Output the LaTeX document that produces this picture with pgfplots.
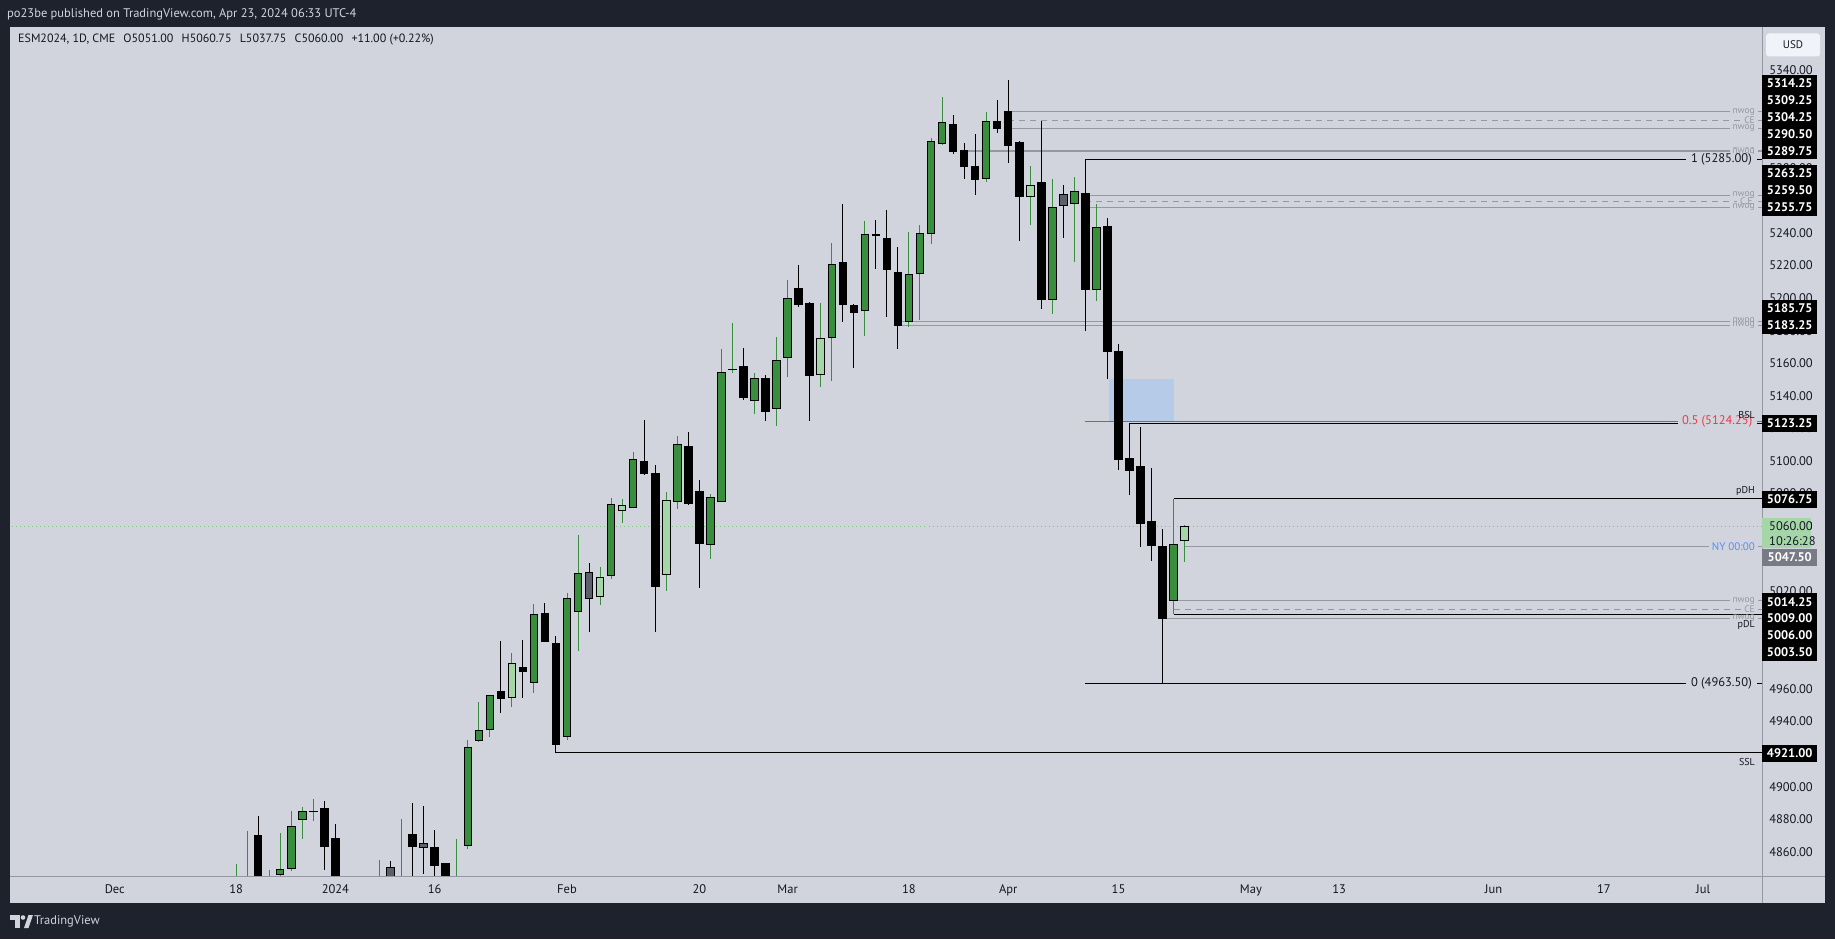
\documentclass[border=0pt]{standalone}
\usepackage{fontspec}
\setmainfont{PT Sans}
\usepackage{pgfplots}
\pgfplotsset{compat=1.18}
\usepackage{pgfplotstable}

\definecolor{frame}{RGB}{30,34,45}
\definecolor{pane}{RGB}{209,212,220}
\definecolor{upcol}{RGB}{56,142,60}
\definecolor{upin}{RGB}{165,214,167}
\definecolor{dnin}{RGB}{93,96,107}
\definecolor{lvl}{RGB}{149,152,161}
\definecolor{fibred}{RGB}{242,54,69}
\definecolor{fvg}{RGB}{181,203,232}
\definecolor{nyblue}{RGB}{91,140,246}
\definecolor{ink}{RGB}{19,23,34}
\definecolor{pxgrey}{RGB}{120,123,134}
\definecolor{dotgreen}{RGB}{129,199,132}
\definecolor{usdbox}{RGB}{240,243,250}

\newcommand\fsz[1]{\fontsize{#1}{#1}\selectfont}
\pgfdeclareplotmark{blank}{}

% i = trading day index (0 = 1 Dec 2023), o h l c
\pgfplotstableread{
i o h l c
11 4820 4852.6 4810 4840
12 4835 4872.8 4830 4870.8
15 4846.2 4871.6 4844 4849.3
16 4849.9 4885.1 4848 4875.7
17 4880.0 4887.6 4868.1 4884.9
18 4884.6 4892.5 4879.2 4885.0
24 4790 4854.8 4785 4849.9
26 4835 4880.2 4830 4871.4
31 4830 4867.7 4825 4864.6
32 4864.0 4928.5 4862 4924.2
33 4928.5 4951.8 4927.7 4934.6
34 4935.2 4956.1 4930.7 4956.1
38 4964.1 5012.2 4957.7 5005.8
41 4930.9 5018.9 4928.7 5015.6
42 5007.7 5054.5 4983.5 5031.0
45 5029.8 5077.4 5027.7 5073.4
47 5071.5 5105.3 5071.0 5101.0
51 5075.0 5115.1 5070.7 5110.2
54 5049.0 5079.5 5040 5077.7
55 5075.2 5168.5 5075 5154.4
56 5156.0 5184.7 5154.2 5156.4
58 5137.2 5153.8 5129.0 5150.7
60 5132.3 5176.1 5121.7 5161.8
61 5163.6 5211.1 5151.3 5199.8
65 5175.9 5233.8 5149.3 5220.7
68 5192.1 5247.3 5176.9 5239.1
72 5185.75 5240.6 5182.4 5214.6
73 5215.2 5244.8 5186.5 5239.7
74 5239.5 5298.3 5233.4 5296.2
75 5295.0 5323.4 5294.2 5307.9
79 5273.5 5314.2 5271.5 5308.5
85 5199 5273.1 5190 5255.75
87 5258.1 5274.3 5222 5265.5
89 5205 5257.7 5198 5243.4
96 5014.25 5076.75 5006 5049
}\upbars

\pgfplotstableread{
i o h l c
13 4869.8 4882.0 4795 4800
19 4886.9 4891.2 4849.1 4863.2
20 4868.3 4877.1 4820 4830
27 4870.8 4890.0 4835 4863.2
29 4862.8 4873.4 4835 4851.5
30 4852.6 4852.6 4820 4830
35 4958.6 4989.5 4945.5 4954.1
37 4972.9 4990.1 4954.7 4970.8
39 5006.4 5012.8 4989.0 4989.0
40 4988.0 4992.5 4921.0 4926.0
48 5099.8 5125.1 5091.6 5092.4
49 5092.4 5097.3 4995 5023
52 5108.6 5117.8 5072.8 5073.6
53 5081.4 5088.3 5022 5049.4
57 5157.7 5169.3 5137.4 5138.9
59 5150.7 5152.8 5124.7 5130.3
62 5206.0 5220.3 5194.7 5195.9
63 5196.4 5197.6 5124.7 5152.6
66 5221.9 5257.7 5185.5 5195.9
67 5195.5 5196.4 5157.3 5191.2
69 5239.1 5247.9 5218.0 5238.5
70 5236.7 5254.1 5188.6 5217.6
71 5215.8 5231.3 5168.5 5183.25
76 5306.6 5312.4 5288.4 5289.75
77 5290.5 5295.2 5273.3 5280.7
78 5280.9 5300.7 5263.3 5272.7
80 5308.5 5321.6 5301.5 5304.25
81 5314.25 5333.9 5282.9 5293.6
82 5295.2 5296.4 5235.2 5262.3
84 5271.0 5308.7 5193 5199
88 5264.3 5285.0 5180 5205
90 5244.2 5249.1 5150 5167
91 5167 5172 5094.7 5100.8
92 5101.2 5123.25 5079.1 5094.0
93 5096.3 5120.8 5047.4 5061.3
94 5063.1 5095.7 5038.6 5048.0
95 5047.2 5058.2 4963.5 5003.5
}\downbars

% inside bars
\pgfplotstableread{
i o h l c
14 4830 4848.7 4825 4848.7
36 4954.9 4982.1 4949.1 4975.7
44 5016.9 5034.9 5011.8 5028.5
46 5069.7 5076.4 5062.1 5072.8
50 5030 5080.9 5020 5075.8
64 5153.2 5197.0 5145.6 5175.3
83 5262.4 5281.1 5245.0 5269.2
97 5051 5060.75 5037.75 5060
}\upinside

\pgfplotstableread{
i o h l c
25 4850.5 4854.4 4830 4843
28 4865.2 4888.2 4846.2 4862.8
43 5031.6 5037.3 4995.2 5015.6
86 5263.6 5269.4 5237.0 5256.9
}\downinside

\pgfplotsset{
  candle/.style 2 args={
    only marks, mark=blank, scatter,
    visualization depends on={\thisrow{c}-\thisrow{o} \as \bodyh},
    scatter/@pre marker code/.code={%
      \filldraw[fill=#1, draw=black, line width=1pt]
        (axis direction cs:-0.34,0) rectangle (axis direction cs:0.34,\bodyh);
    },
    scatter/@post marker code/.code={},
    error bars/.cd, y dir=both, y explicit, error mark=none,
      error bar style={line width=1pt, draw=#2},
  },
}

\tikzset{
  lv/.style={lvl, line width=1pt},
  lvd/.style={lvl, line width=1pt, dash pattern=on 6pt off 5pt},
  tag/.style={fill=pane, inner xsep=3pt, inner ysep=0pt, anchor=east, font=\fsz{9.5}, text=lvl},
  bigtag/.style={fill=pane, inner xsep=5pt, inner ysep=0pt, anchor=east, font=\fsz{12.5}, text=ink},
  side/.style={anchor=base east, inner sep=0pt, font=\fsz{10}, text=ink},
  pbox/.style={fill=black, text=white, font=\fsz{12.5}\bfseries, anchor=west,
    minimum width=55pt, minimum height=16.9pt, inner sep=0pt},
}

\begin{document}
\begin{tikzpicture}
\useasboundingbox (0,0) rectangle (1835pt,939pt);
\begin{scope}[x=1pt, y=-1pt, shift={(0pt,939pt)}]
  \fill[frame] (0,0) rectangle (1835,939);
  \fill[pane] (10,27) rectangle (1825,903);
\end{scope}

\begin{axis}[
  at={(10pt,62pt)}, anchor=south west, scale only axis,
  width=1752pt, height=850pt,
  xmin=-9.5, xmax=149.34, ymin=4844.6, ymax=5366.4,
  axis line style={draw=none},
  major tick length=0pt,
  clip marker paths=true,
  scaled y ticks=false,
  xtick={0,11,20,29,41,53,61,72,81,91,103,111,125,135,144},
  xticklabels={Dec,18,2024,16,Feb,20,Mar,18,Apr,15,May,13,Jun,17,Jul},
  ytick={4860,4880,...,5340},
  yticklabel pos=right,
  tick label style={font=\fsz{12.5}, text=ink},
  xticklabel style={anchor=base, inner sep=0pt, yshift=-17pt},
  yticklabel style={anchor=west, inner sep=0pt, xshift=7pt,
    /pgf/number format/fixed, /pgf/number format/fixed zerofill,
    /pgf/number format/precision=2, /pgf/number format/1000 sep={},
    /pgf/number format/assume math mode=true},
]
% current price and fair value gap
\draw[dotgreen, line width=1pt, dash pattern=on 1pt off 3pt] (axis cs:-10,5060) -- (axis cs:150,5060);
\fill[fvg] (axis cs:90.13,5123.7) rectangle (axis cs:96.0,5150.3);

% opening gaps
\draw[lv] (axis cs:81,5314.25) -- (axis cs:150,5314.25);
\draw[lvd] (axis cs:81,5309.25) -- (axis cs:150,5309.25);
\draw[lv] (axis cs:81,5304.25) -- (axis cs:150,5304.25);
\draw[lv] (axis cs:77,5290.5) -- (axis cs:150,5290.5);
\draw[lv] (axis cs:77,5289.75) -- (axis cs:150,5289.75);
\draw[lv] (axis cs:88,5263.25) -- (axis cs:150,5263.25);
\draw[lvd] (axis cs:88,5259.5) -- (axis cs:150,5259.5);
\draw[lv] (axis cs:88,5255.75) -- (axis cs:150,5255.75);
\draw[lv] (axis cs:71.3,5185.75) -- (axis cs:150,5185.75);
\draw[lv] (axis cs:71.3,5183.25) -- (axis cs:150,5183.25);
\draw[lv] (axis cs:96,5014.25) -- (axis cs:150,5014.25);
\draw[lvd] (axis cs:96,5008.9) -- (axis cs:150,5008.9);
\draw[lv] (axis cs:95,5003.5) -- (axis cs:150,5003.5);
\draw[lv] (axis cs:97,5047.5) -- (axis cs:150,5047.5);

% fib and liquidity levels
\draw[black, line width=1pt] (axis cs:88,5285) -- (axis cs:150,5285);
\draw[fibred, line width=1pt] (axis cs:88,5124.25) -- (axis cs:150,5124.25);
\draw[black, line width=1pt] (axis cs:88,4963.5) -- (axis cs:150,4963.5);
\draw[black, line width=1pt] (axis cs:92,5123.25) -- (axis cs:150,5123.25);
\draw[black, line width=1pt] (axis cs:96,5076.75) -- (axis cs:150,5076.75);
\draw[black, line width=1pt] (axis cs:96,5006) -- (axis cs:150,5006);
\draw[black, line width=1pt] (axis cs:40,4921) -- (axis cs:150,4921);

% labels
\node[tag] at (axis cs:148.97,5314.25) {nwog};
\node[tag] at (axis cs:148.97,5309.25) {CE};
\node[tag] at (axis cs:148.97,5304.25) {nwog};
\node[tag] at (axis cs:148.97,5290.5) {nwog};
\node[tag] at (axis cs:148.97,5289.75) {nwog};
\node[bigtag] at (axis cs:148.88,5285) {1 (5285.00)};
\node[tag] at (axis cs:148.97,5263.25) {nwog};
\node[tag] at (axis cs:148.97,5259.5) {C.E.};
\node[tag] at (axis cs:148.97,5255.75) {nwog};
\node[tag] at (axis cs:148.97,5185.75) {nwog};
\node[tag] at (axis cs:148.97,5183.25) {nwog};
\node[bigtag, text=fibred, inner xsep=4.5pt] at (axis cs:148.88,5124.25) {0.5 (5124.25)};
\node[side, yshift=5pt] at (axis cs:148.70,5123.25) {BSL};
\node[side, yshift=5pt] at (axis cs:148.70,5076.75) {pDH};
\node[tag, font=\fsz{11}, text=nyblue] at (axis cs:148.97,5047.5) {NY 00:00};
\node[tag] at (axis cs:148.97,5014.25) {nwog};
\node[tag] at (axis cs:148.97,5008.9) {CE};
\node[tag] at (axis cs:148.97,5003.5) {nwog};
\node[side, yshift=-13pt] at (axis cs:148.70,5006) {pDL};
\node[bigtag] at (axis cs:148.88,4963.5) {0 (4963.50)};
\node[side, yshift=-13.4pt] at (axis cs:148.70,4921) {SSL};

% candles
\addplot[candle={upcol}{upcol}] table[x=i, y=o,
  y error plus expr=\thisrow{h}-\thisrow{o}, y error minus expr=\thisrow{o}-\thisrow{l}] {\upbars};
\addplot[candle={black}{black}] table[x=i, y=o,
  y error plus expr=\thisrow{h}-\thisrow{o}, y error minus expr=\thisrow{o}-\thisrow{l}] {\downbars};
\addplot[candle={upin}{upcol}] table[x=i, y=o,
  y error plus expr=\thisrow{h}-\thisrow{o}, y error minus expr=\thisrow{o}-\thisrow{l}] {\upinside};
\addplot[candle={dnin}{black}] table[x=i, y=o,
  y error plus expr=\thisrow{h}-\thisrow{o}, y error minus expr=\thisrow{o}-\thisrow{l}] {\downinside};
\end{axis}

\begin{scope}[x=1pt, y=-1pt, shift={(0pt,939pt)}]
  % scale frame
  \draw[lvl, line width=1pt] (1762,27) -- (1762,903);
  \draw[lvl, line width=1pt] (10,877) -- (1825,877);
  % price tags
  \node[pbox] at (1762,83.4) {5314.25};
  \node[pbox] at (1762,100.3) {5309.25};
  \node[pbox] at (1762,117.2) {5304.25};
  \node[pbox] at (1762,134.0) {5290.50};
  \node[pbox] at (1762,150.9) {5289.75};
  \node[pbox] at (1762,173.4) {5263.25};
  \node[pbox] at (1762,190.3) {5259.50};
  \node[pbox] at (1762,207.2) {5255.75};
  \node[pbox] at (1762,308.4) {5185.75};
  \node[pbox] at (1762,325.3) {5183.25};
  \node[pbox] at (1762,423.3) {5123.25};
  \node[pbox] at (1762,499.3) {5076.75};
  \fill[upin] (1762,518) rectangle (1811,548);
  \node[anchor=west, inner sep=0pt, font=\fsz{12.5}, text=ink] at (1769,526) {5060.00};
  \node[anchor=west, inner sep=0pt, font=\fsz{12.5}, text=ink] at (1769,540.7) {10:26:28};
  \node[pbox, fill=pxgrey, minimum height=16.4pt] at (1762,557.5) {5047.50};
  \node[pbox] at (1762,601.7) {5014.25};
  \node[pbox] at (1762,618.6) {5009.00};
  \node[pbox] at (1762,635.5) {5006.00};
  \node[pbox] at (1762,652.4) {5003.50};
  \node[pbox] at (1762,753.3) {4921.00};
  % currency button
  \node[fill=usdbox, rounded corners=3pt, minimum width=54pt, minimum height=23pt,
    inner sep=0pt, font=\fsz{11}, text=ink] at (1793,45) {USD};
  % header and legend
  \node[anchor=west, inner sep=0pt, font=\fsz{12.5}, text=pane] at (7,14)
    {po23be published on TradingView.com, Apr 23, 2024 06:33 UTC-4};
  \node[anchor=west, inner sep=0pt, font=\fsz{12}, text=ink] at (18,40)
    {ESM2024, 1D, CME\hspace{5pt} O5051.00\hspace{5pt} H5060.75\hspace{5pt} L5037.75\hspace{5pt} C5060.00\hspace{5pt} +11.00 (+0.22\%)};
  % logo
  \fill[pane] (10,915) rectangle (20,919.5);
  \fill[pane] (15,915) rectangle (20,928);
  \fill[pane] (23,917.5) circle (2.3);
  \fill[pane] (24,928) -- (28.5,915) -- (33,915) -- (28.5,928) -- cycle;
  \node[anchor=west, inner sep=0pt, font=\fsz{12.5}, text=pane] at (34,921.5) {TradingView};
\end{scope}
\end{tikzpicture}
\end{document}
